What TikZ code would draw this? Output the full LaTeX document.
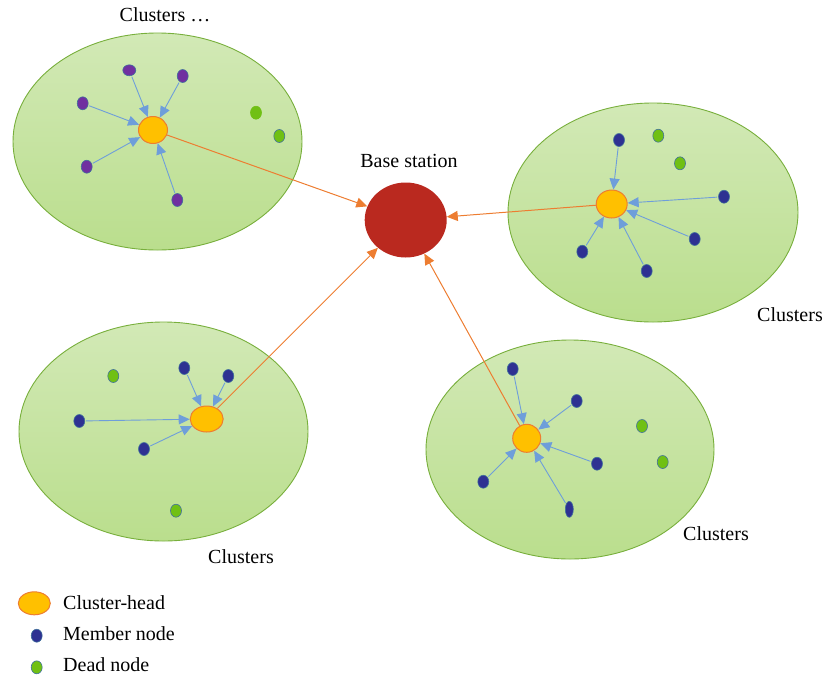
\documentclass[tikz,border=0pt]{standalone}
\usepackage{fontspec}
\setmainfont{Liberation Serif}
\usetikzlibrary{shapes.geometric,arrows.meta}
\definecolor{clfillT}{RGB}{210,233,182}
\definecolor{clfillB}{RGB}{186,222,141}
\definecolor{cldraw}{RGB}{120,175,60}
\definecolor{headfill}{RGB}{255,192,0}
\definecolor{headdraw}{RGB}{237,125,49}
\definecolor{bsfill}{RGB}{186,41,31}
\definecolor{purplenode}{RGB}{112,48,160}
\definecolor{navynode}{RGB}{46,49,146}
\definecolor{nodeedge}{RGB}{65,113,156}
\definecolor{deadfill}{RGB}{112,192,20}
\definecolor{bluearrow}{RGB}{110,158,218}
\definecolor{orangearrow}{RGB}{237,125,49}
\tikzset{
  cluster/.style={draw=cldraw, line width=0.9pt, top color=clfillT, bottom color=clfillB},
  chead/.style={shape=ellipse, draw=headdraw, line width=1pt, fill=headfill, inner sep=0pt},
  member/.style={shape=ellipse, draw=nodeedge, line width=0.6pt, fill=navynode, inner sep=0pt, minimum width=11pt, minimum height=13pt},
  pmember/.style={member, fill=purplenode},
  dead/.style={shape=ellipse, draw=nodeedge, line width=0.6pt, fill=deadfill, inner sep=0pt, minimum width=11pt, minimum height=13pt},
  deadnoedge/.style={dead, draw=deadfill},
  bstation/.style={shape=ellipse, fill=bsfill, inner sep=0pt, minimum width=82pt, minimum height=75pt},
  label/.style={font=\fontsize{20}{24}\selectfont, inner sep=0pt},
  barrow/.style={draw=bluearrow, line width=0.9pt, -{Triangle[length=11pt,width=10pt]}, shorten <=1pt},
  oarrow/.style={draw=orangearrow, line width=1pt, -{Triangle[length=11pt,width=10pt]}},
}
\begin{document}
\begin{tikzpicture}[x=1pt,y=-1pt]
\useasboundingbox (0,0) rectangle (826,678);
% cluster ellipses
\draw[cluster] (157.5,141.5) ellipse [x radius=144.5pt, y radius=108.5pt];
\draw[cluster] (653,212.5) ellipse [x radius=145pt, y radius=109.5pt];
\draw[cluster] (163.5,431.5) ellipse [x radius=144.5pt, y radius=109.5pt];
\draw[cluster] (570,449.5) ellipse [x radius=144pt, y radius=109.5pt];

% base station
\node[bstation] (bs) at (405.7,220) {};
\node[label] (bslabel) at (409,161) {Base station};

% cluster 1
\node[chead, minimum width=29pt, minimum height=27pt] (h1) at (153,130) {};
\node[pmember, minimum width=13pt, minimum height=11pt] (m11) at (129.3,70.3) {};
\node[pmember] (m12) at (182.7,76) {};
\node[pmember] (m13) at (82.7,103.3) {};
\node[pmember] (m14) at (86.7,166.7) {};
\node[pmember] (m15) at (177.3,200) {};
\node[deadnoedge] (d11) at (256,112.7) {};
\node[dead] (d12) at (279.3,136) {};
\draw[barrow] (m11) -- (h1);
\draw[barrow] (m12) -- (h1);
\draw[barrow] (m13) -- (h1);
\draw[barrow] (m14) -- (h1);
\draw[barrow] (m15) -- (h1);

% cluster 2
\node[chead, minimum width=31pt, minimum height=28pt] (h2) at (611.7,204) {};
\node[member] (m21) at (619,140) {};
\node[member] (m22) at (724,196.7) {};
\node[member] (m23) at (694.7,239) {};
\node[member] (m24) at (582.3,251.7) {};
\node[member] (m25) at (646.7,271) {};
\node[dead] (d21) at (658.3,135.7) {};
\node[dead] (d22) at (680,163.3) {};
\draw[barrow] (m21) -- (h2);
\draw[barrow] (m22) -- (h2);
\draw[barrow] (m23) -- (h2);
\draw[barrow] (m24) -- (h2);
\draw[barrow] (m25) -- (h2);

% cluster 3
\node[chead, minimum width=33pt, minimum height=26pt] (h3) at (206.7,419) {};
\node[member] (m31) at (184.3,368) {};
\node[member] (m32) at (228.3,376) {};
\node[member] (m33) at (79.3,421) {};
\node[member] (m34) at (144,449) {};
\node[dead] (d31) at (113.3,376) {};
\node[dead] (d32) at (176,510.7) {};
\draw[barrow] (m31) -- (h3);
\draw[barrow] (m32) -- (h3);
\draw[barrow] (m33) -- (h3);
\draw[barrow] (m34) -- (h3);

% cluster 4
\node[chead, minimum width=28pt, minimum height=28pt] (h4) at (526.7,438.3) {};
\node[member] (m41) at (512.7,369) {};
\node[member] (m42) at (576.7,401) {};
\node[member] (m43) at (597,463.7) {};
\node[member] (m44) at (483.3,481.7) {};
\node[member, minimum width=8pt, minimum height=16pt] (m45) at (569.3,509.3) {};
\node[dead] (d41) at (642,426) {};
\node[dead] (d42) at (662.7,462) {};
\draw[barrow] (m41) -- (h4);
\draw[barrow] (m42) -- (h4);
\draw[barrow] (m43) -- (h4);
\draw[barrow] (m44) -- (h4);
\draw[barrow] (m45) -- (h4);

% orange links to base station
\draw[oarrow] (h1) -- (bs);
\draw[oarrow] (h2) -- (bs);
\draw[oarrow] (h3) -- (bs);
\draw[oarrow] (h4) -- (bs);

% cluster labels
\node[label] (l1) at (165,15) {Clusters …};
\node[label] (l2) at (790,315) {Clusters};
\node[label] (l3) at (241,557) {Clusters};
\node[label] (l4) at (716,534) {Clusters};

% legend
\node[chead, minimum width=32pt, minimum height=23pt] (lg1) at (34.3,603.3) {};
\node[member] (lg2) at (36.7,635.7) {};
\node[dead] (lg3) at (36.7,667.3) {};
\node[label, anchor=west] (lt1) at (63,603) {Cluster-head};
\node[label, anchor=west] (lt2) at (63,634) {Member node};
\node[label, anchor=west] (lt3) at (63,665) {Dead node};
\end{tikzpicture}
\end{document}
